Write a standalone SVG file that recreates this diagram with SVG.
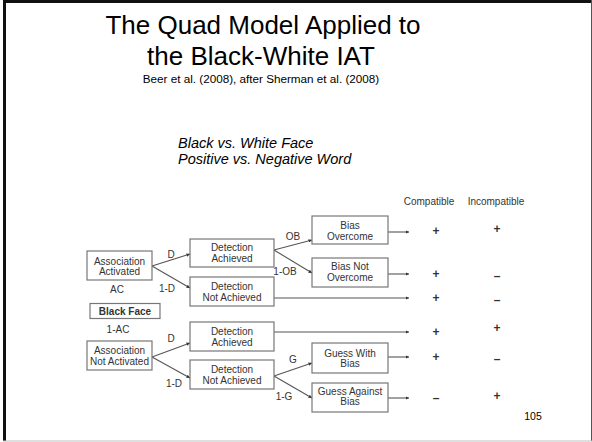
<svg xmlns="http://www.w3.org/2000/svg" width="592" height="442" viewBox="0 0 592 442">
<style>
.t{font-family:"Liberation Sans",Arial,sans-serif;fill:#000}
.bx{fill:#fff;stroke:#777;stroke-width:1.2}
.bt{font-family:"Liberation Sans",Arial,sans-serif;font-size:10px;fill:#333;text-anchor:middle}
.lb{font-family:"Liberation Sans",Arial,sans-serif;font-size:10px;fill:#333;text-anchor:middle}
.sg{font-family:"Liberation Sans",Arial,sans-serif;font-size:12px;font-weight:bold;fill:#333;text-anchor:middle}
.ln{stroke:#555;stroke-width:1.1;fill:none;marker-end:url(#ah)}
</style>
<defs>
<marker id="ah" viewBox="0 0 6 6" refX="6" refY="3" markerWidth="3.5" markerHeight="3.5" orient="auto" markerUnits="userSpaceOnUse">
<path d="M0,0 L6,3 L0,6 Z" fill="#333"/>
</marker>
</defs>
<rect x="0" y="0" width="592" height="442" fill="#fff"/>
<g id="frame">
<rect x="3" y="0" width="588" height="3" fill="#111"/>
<rect x="3" y="0" width="3" height="441" fill="#111"/>
<line x1="591.5" y1="0" x2="591.5" y2="441" stroke="#555" stroke-width="1"/>
<line x1="3" y1="441" x2="592" y2="441" stroke="#c0c0c0" stroke-width="1.2"/>
</g>
<g id="title">
<text class="t" x="263" y="34" font-size="26" text-anchor="middle">The Quad Model Applied to</text>
<text class="t" x="261" y="65" font-size="26" text-anchor="middle">the Black-White IAT</text>
<text class="t" x="261" y="83" font-size="11.7" text-anchor="middle">Beer et al. (2008), after Sherman et al. (2008)</text>
<text class="t" x="178" y="148" font-size="14.5" font-style="italic">Black vs. White Face</text>
<text class="t" x="178" y="163.5" font-size="14.5" font-style="italic">Positive vs. Negative Word</text>
<text class="t" x="533" y="420" font-size="10.5" text-anchor="middle">105</text>
</g>
<g id="connectors">
<line class="ln" x1="152" y1="266" x2="190" y2="254"/>
<line class="ln" x1="152" y1="266" x2="190" y2="288"/>
<line class="ln" x1="274" y1="250" x2="312" y2="240"/>
<line class="ln" x1="274" y1="250" x2="312" y2="273"/>
<line class="ln" x1="152" y1="357" x2="190" y2="343"/>
<line class="ln" x1="152" y1="357" x2="190" y2="378"/>
<line class="ln" x1="274" y1="376" x2="312" y2="363"/>
<line class="ln" x1="274" y1="376" x2="312" y2="398"/>
<line class="ln" x1="388" y1="232" x2="409" y2="232"/>
<line class="ln" x1="388" y1="274" x2="409" y2="274"/>
<line class="ln" x1="274" y1="298" x2="409" y2="298"/>
<line class="ln" x1="274" y1="332" x2="409" y2="332"/>
<line class="ln" x1="388" y1="357" x2="409" y2="357"/>
<line class="ln" x1="388" y1="398" x2="409" y2="398"/>
</g>
<g id="labels">
<text class="lb" x="171" y="258">D</text>
<text class="lb" x="167" y="292">1-D</text>
<text class="lb" x="117" y="293">AC</text>
<text class="lb" x="293" y="240">OB</text>
<text class="lb" x="285" y="275">1-OB</text>
<text class="lb" x="118" y="333">1-AC</text>
<text class="lb" x="171" y="342">D</text>
<text class="lb" x="174" y="387">1-D</text>
<text class="lb" x="293" y="363">G</text>
<text class="lb" x="284" y="400">1-G</text>
<text class="lb" x="429" y="205">Compatible</text>
<text class="lb" x="496" y="205">Incompatible</text>
</g>
<g id="outcomes">
<text class="sg" x="436" y="235">+</text>
<text class="sg" x="497" y="233">+</text>
<text class="sg" x="436" y="278">+</text>
<text class="sg" x="497" y="279.5">–</text>
<text class="sg" x="436" y="302">+</text>
<text class="sg" x="497" y="304">–</text>
<text class="sg" x="436" y="335.5">+</text>
<text class="sg" x="497" y="332">+</text>
<text class="sg" x="436" y="361">+</text>
<text class="sg" x="497" y="362.5">–</text>
<text class="sg" x="436" y="401.5">–</text>
<text class="sg" x="497" y="400">+</text>
</g>
<g id="assoc-activated">
<rect class="bx" x="87" y="251" width="65" height="29"/>
<text class="bt" x="119.5" y="264.5">Association</text>
<text class="bt" x="119.5" y="275">Activated</text>
</g>
<g id="detect-achieved-1">
<rect class="bx" x="190" y="239" width="84" height="28"/>
<text class="bt" x="232" y="251">Detection</text>
<text class="bt" x="232" y="262">Achieved</text>
</g>
<g id="detect-not-achieved-1">
<rect class="bx" x="190" y="277" width="84" height="29"/>
<text class="bt" x="232" y="290">Detection</text>
<text class="bt" x="232" y="300.5">Not Achieved</text>
</g>
<g id="bias-overcome">
<rect class="bx" x="312" y="216" width="76" height="28"/>
<text class="bt" x="350" y="228.5">Bias</text>
<text class="bt" x="350" y="239.5">Overcome</text>
</g>
<g id="bias-not-overcome">
<rect class="bx" x="312" y="258" width="76" height="29"/>
<text class="bt" x="350" y="270">Bias Not</text>
<text class="bt" x="350" y="281">Overcome</text>
</g>
<g id="black-face">
<rect class="bx" x="90" y="303.5" width="70" height="15"/>
<text class="bt" x="125" y="314.5" font-weight="bold">Black Face</text>
</g>
<g id="assoc-not-activated">
<rect class="bx" x="87" y="341" width="65" height="29"/>
<text class="bt" x="119.5" y="354">Association</text>
<text class="bt" x="119.5" y="364.5">Not Activated</text>
</g>
<g id="detect-achieved-2">
<rect class="bx" x="190" y="322" width="84" height="29"/>
<text class="bt" x="232" y="335">Detection</text>
<text class="bt" x="232" y="345.5">Achieved</text>
</g>
<g id="detect-not-achieved-2">
<rect class="bx" x="190" y="360" width="84" height="29"/>
<text class="bt" x="232" y="373">Detection</text>
<text class="bt" x="232" y="383.5">Not Achieved</text>
</g>
<g id="guess-with-bias">
<rect class="bx" x="312" y="343" width="76" height="30"/>
<text class="bt" x="350" y="356.5">Guess With</text>
<text class="bt" x="350" y="367">Bias</text>
</g>
<g id="guess-against-bias">
<rect class="bx" x="312" y="383" width="76" height="29"/>
<text class="bt" x="350" y="394.5">Guess Against</text>
<text class="bt" x="350" y="405">Bias</text>
</g>
</svg>
